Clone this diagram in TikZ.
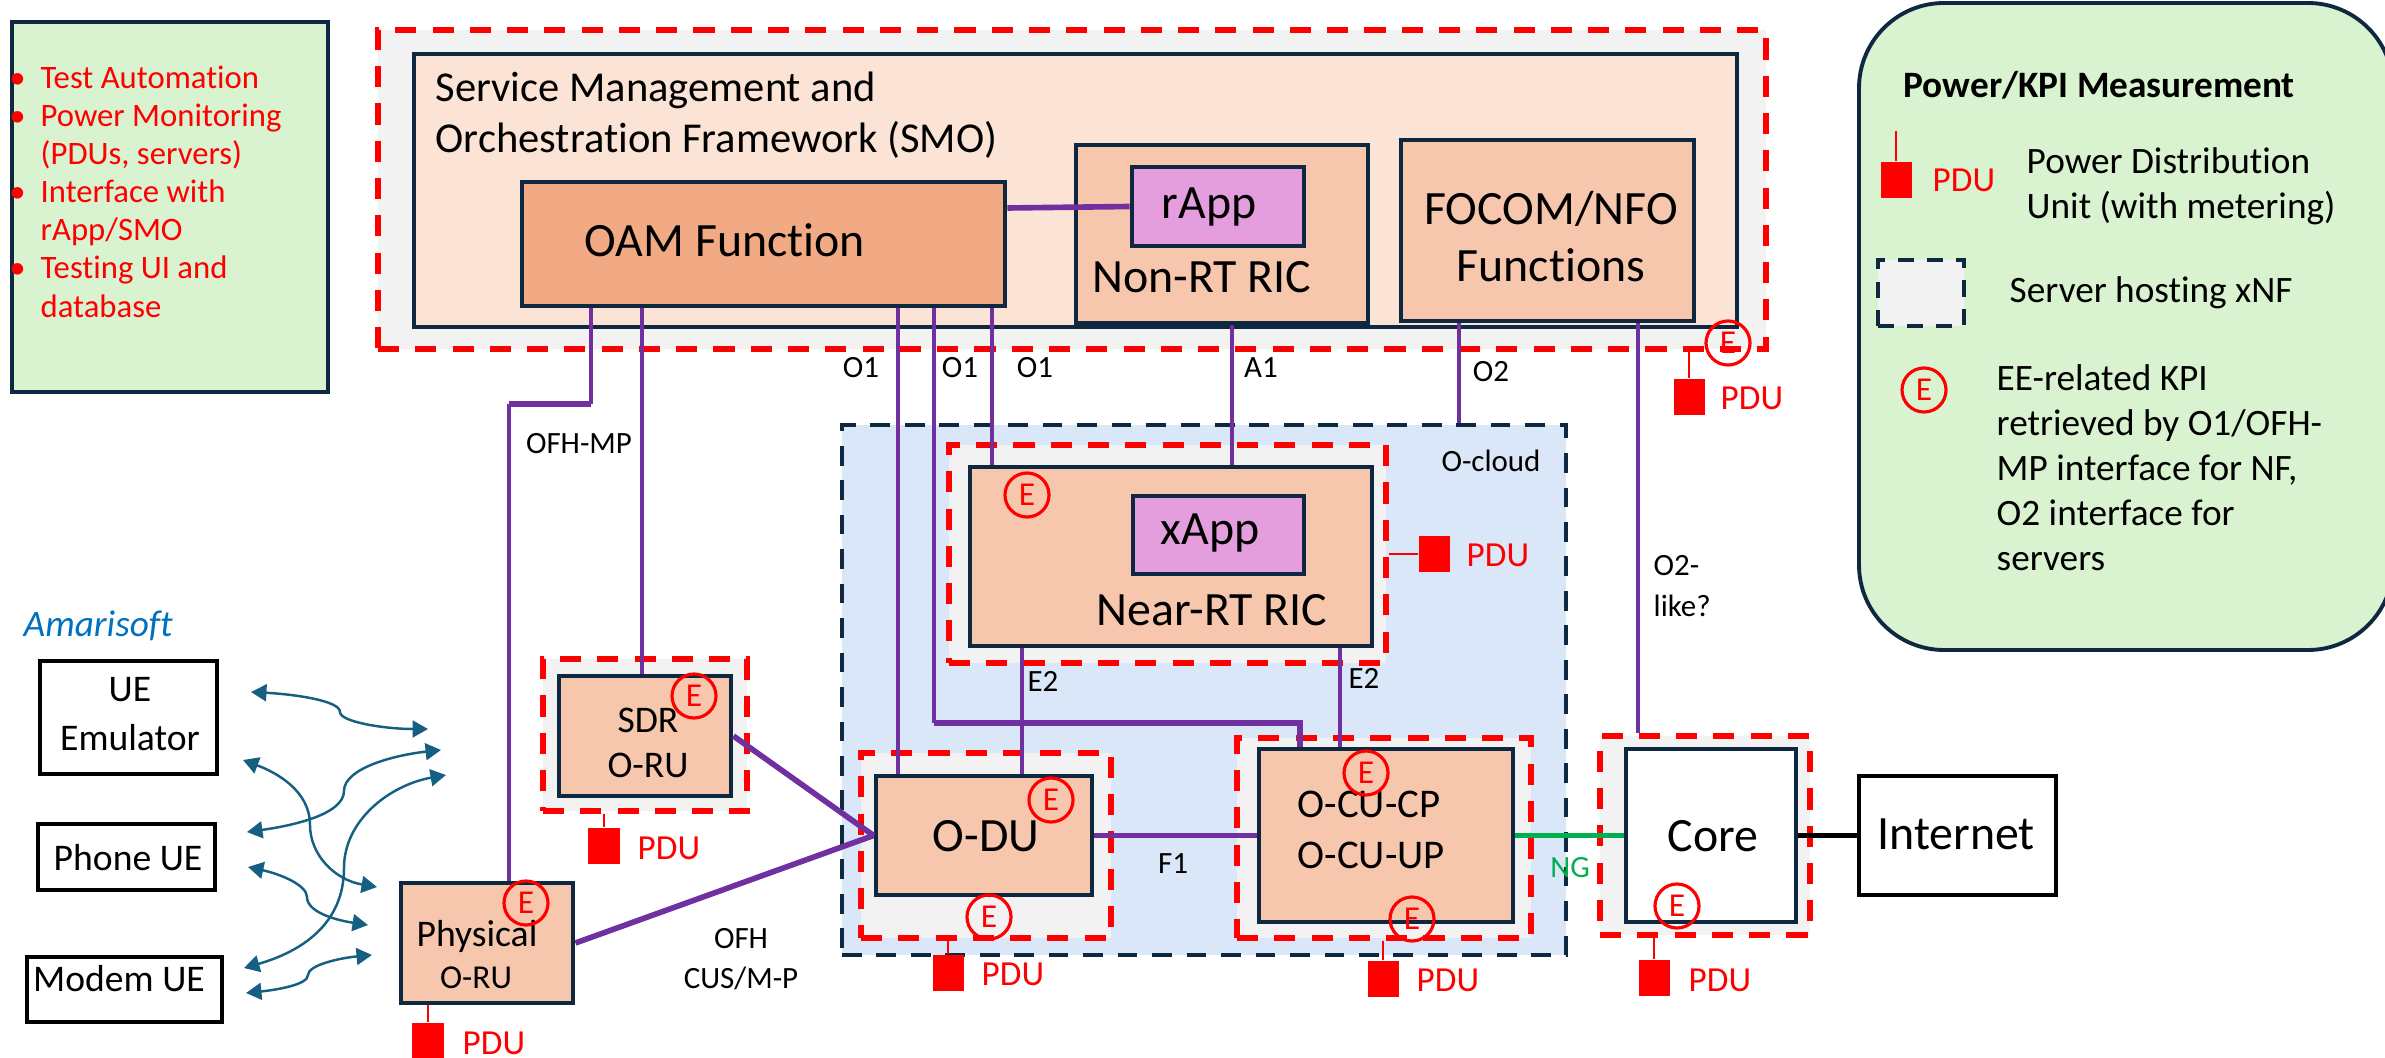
\documentclass[tikz,border=0pt]{standalone}
\usepackage{fontspec}
\setmainfont{Carlito}[Ligatures=CommonOff]
\usetikzlibrary{fit}
\usetikzlibrary{arrows.meta}

\definecolor{navy}{HTML}{0E2841}
\definecolor{oran}{HTML}{7030A0}
\definecolor{teal}{HTML}{156082}
\definecolor{peach}{HTML}{F6C6AD}
\definecolor{oamfill}{HTML}{F2AA84}
\definecolor{appfill}{HTML}{E59EDD}
\definecolor{smofill}{HTML}{FBE3D6}
\definecolor{notefill}{HTML}{D9F2D0}
\definecolor{cloudfill}{HTML}{DAE7F8}
\definecolor{srvfill}{HTML}{F2F2F2}
\definecolor{nggreen}{HTML}{00B050}
\definecolor{amari}{HTML}{0070C0}

\tikzset{
  boxbase/.style={inner sep=0pt,line width=1.4pt},
  ranbox/.style={boxbase,draw=navy,fill=peach},
  oambox/.style={boxbase,draw=navy,fill=oamfill},
  appbox/.style={boxbase,draw=navy,fill=appfill},
  smobox/.style={boxbase,draw=navy,fill=smofill},
  plainbox/.style={boxbase,draw=navy,fill=white},
  uebox/.style={boxbase,draw=black,fill=white},
  srvbox/.style={inner sep=0pt,draw=red,fill=srvfill,line width=1.5pt,dash pattern=on 6pt off 4.6pt},
  cloudbox/.style={inner sep=0pt,draw=navy,fill=cloudfill,line width=1pt,dash pattern=on 5.6pt off 4.2pt},
  notebox/.style={inner sep=0pt,draw=navy,fill=notefill,line width=1.1pt},
  swatch/.style={inner sep=0pt,draw=navy,fill=srvfill,line width=1pt,dash pattern=on 4.6pt off 3.6pt},
  ekpi/.style={circle,draw=red,line width=.9pt,inner sep=0pt,minimum size=.44cm,text=red,font=\fontsize{9.5}{10}\selectfont},
  pdusq/.style={fill=red,inner sep=0pt,minimum width=.31cm,minimum height=.36cm},
  pdutxt/.style={text=red,anchor=west,inner sep=0pt,font=\fontsize{10}{12}\selectfont},
  pduwire/.style={draw=red,line width=.7pt},
  oline/.style={draw=oran,line width=1.1pt},
  othick/.style={draw=oran,line width=1.6pt},
  ueflow/.style={draw=teal,line width=.7pt,{Triangle[length=4.4pt,width=4.8pt]}-{Triangle[length=4.4pt,width=4.8pt]}},
  iflabel/.style={inner sep=0pt,font=\fontsize{8.8}{10}\selectfont},
  bigtxt/.style={inner sep=0pt,font=\fontsize{13.6}{15}\selectfont},
  midtxt/.style={inner sep=0pt,font=\fontsize{11.6}{13}\selectfont},
  uetxt/.style={inner sep=0pt,font=\fontsize{10.7}{13}\selectfont},
  legtxt/.style={inner sep=0pt,anchor=west,font=\fontsize{10.6}{12.8}\selectfont},
}

\begin{document}
\begin{tikzpicture}[x=.01cm,y=-.01cm]
\useasboundingbox (0,0) rectangle (2385,1058);

% test automation note
\node[notebox,fit={(12,22)(328,392)}] (autonote) {};
\node[inner sep=0pt,anchor=north west,align=left,text=red,font=\fontsize{9.3}{10.85}\selectfont] (autotxt) at (40,65)
  {\leavevmode\llap{\textbullet\hspace{4.3pt}}Test Automation\\
   \leavevmode\llap{\textbullet\hspace{4.3pt}}Power Monitoring\\
   (PDUs, servers)\\
   \leavevmode\llap{\textbullet\hspace{4.3pt}}Interface with\\
   rApp/SMO\\
   \leavevmode\llap{\textbullet\hspace{4.3pt}}Testing UI and\\
   database};

% legend
\node[notebox,rounded corners=.85cm,fit={(1859,3)(2393,650)}] (legend) {};
\node[inner sep=0pt,anchor=west,font=\bfseries\fontsize{10.6}{13}\selectfont] (legtitle) at (1903,85) {Power/KPI Measurement};
\node[pdusq] (pduleg) at (1896,180) {};
\coordinate (legwire) at (1896,131);
\draw[pduwire] (legwire) -- (pduleg.north);
\node[pdutxt] (pdulegtxt) at (1932,180) {PDU};
\node[legtxt,align=left] (legpdu) at (2026,186) {Power Distribution\\Unit (with metering)};
\node[swatch,fit={(1878,260)(1964,326)}] (legsrv) {};
\node[legtxt] (legsrvtxt) at (2009,293) {Server hosting xNF};
\node[ekpi] (eleg) at (1924,390) {E};
\node[legtxt,align=left] (legkpi) at (1996,468) {EE-related KPI\\retrieved by O1/OFH-\\MP interface for NF,\\O2 interface for\\servers};

% SMO
\node[srvbox,fit={(378,30)(1766,349)}] (srvsmo) {};
\node[smobox,fit={(414,54)(1737,327)}] (smo) {};
\node[inner sep=0pt,anchor=west,align=left,font=\fontsize{12.1}{14.5}\selectfont] (smotxt) at (435,115) {Service Management and\\Orchestration Framework (SMO)};
\node[oambox,fit={(522,182)(1005,306)}] (oam) {};
\node[bigtxt] (oamtxt) at (725,240) {OAM Function};
\node[ranbox,fit={(1076,145)(1368,323)}] (nonrt) {};
\node[appbox,fit={(1132,167)(1304,246)}] (rapp) {};
\node[bigtxt] (rapptxt) at (1209,207) {rApp};
\node[bigtxt] (nonrttxt) at (1202,277) {Non-RT RIC};
\node[ranbox,fit={(1401,140)(1694,321)}] (focom) {};
\node[bigtxt,align=center] (focomtxt) at (1551,237) {FOCOM/NFO\\[1.2pt]Functions};

% O-cloud
\node[cloudbox,fit={(842,425)(1566,955)}] (ocloud) {};
\node[iflabel] (ocloudtxt) at (1491,461) {O-cloud};

% near-RT RIC
\node[srvbox,fit={(949,445)(1386,663)}] (srvric) {};
\node[ranbox,fit={(970,467)(1372,646)}] (nearrt) {};
\node[appbox,fit={(1133,496)(1304,574)}] (xapp) {};
\node[bigtxt] (xapptxt) at (1210,533) {xApp};
\node[bigtxt] (nearrttxt) at (1212,610) {Near-RT RIC};

% O-DU and O-CU
\node[srvbox,fit={(861,753)(1111,938)}] (srvdu) {};
\node[ranbox,fit={(876,776)(1092,895)}] (odu) {};
\node[bigtxt] (odutxt) at (986,836) {O-DU};
\node[srvbox,fit={(1237,738)(1531,938)}] (srvcu) {};
\node[ranbox,fit={(1259,749)(1513,922)}] (ocu) {};
\node[midtxt,anchor=west] (cptxt) at (1297,804) {O-CU-CP};
\node[midtxt,anchor=west] (uptxt) at (1297,855) {O-CU-UP};

% core and internet
\node[srvbox,fit={(1600,736)(1810,935)}] (srvcore) {};
\node[plainbox,fit={(1626,749)(1796,922)}] (core) {};
\node[bigtxt] (coretxt) at (1713,836) {Core};
\node[uebox,fit={(1859,776)(2056,895)}] (inet) {};
\node[bigtxt] (inettxt) at (1956,834) {Internet};

% radio units
\node[srvbox,fit={(543,659)(747,811)}] (srvsdr) {};
\node[ranbox,fit={(559,676)(731,796)}] (sdr) {};
\node[uetxt] (sdrtxt) at (648,720) {SDR};
\node[uetxt] (sdrru) at (648,765) {O-RU};
\node[ranbox,fit={(401,883)(573,1003)}] (phys) {};
\node[uetxt] (phystxt) at (477,936) {Physical};
\node[iflabel,font=\fontsize{9.5}{11}\selectfont] (physru) at (476,978) {O-RU};

% UE side
\node[text=amari,inner sep=0pt,anchor=west,font=\itshape\fontsize{10.6}{12}\selectfont] (amarisoft) at (23,626) {Amarisoft};
\node[uebox,fit={(40,661)(217,774)}] (ueemu) {};
\node[uetxt,align=center] (ueemutxt) at (130,714) {UE\\[1pt]Emulator};
\node[uebox,fit={(38,824)(215,890)}] (uephone) {};
\node[uetxt] (uephonetxt) at (128,858) {Phone UE};
\node[uebox,fit={(27,957)(222,1022)}] (uemodem) {};
\node[uetxt] (uemodemtxt) at (119,979) {Modem UE};

% x positions of the vertical interfaces
\coordinate (xmpa) at (591,0);
\coordinate (xmpb) at (642,0);
\coordinate (xoa) at (898,0);
\coordinate (xob) at (934,0);
\coordinate (xoc) at (992,0);
\coordinate (xaone) at (1232,0);
\coordinate (xotwo) at (1459,0);
\coordinate (xlike) at (1638,0);
\coordinate (xea) at (1022,0);
\coordinate (xeb) at (1340,0);
\coordinate (jmp) at (509,404);
\coordinate (jo) at (934,723);
\coordinate (jocu) at (1300,723);

% interfaces
\draw[oline] (oam.south -| xmpa) -- (xmpa |- jmp);
\draw[othick] (jmp) -- (xmpa |- jmp);
\draw[oline] (jmp) -- (jmp |- phys.north);
\draw[oline] (oam.south -| xmpb) -- (sdr.north -| xmpb);
\draw[oline] (oam.south -| xoa) -- (odu.north -| xoa);
\draw[oline] (oam.south -| xob) -- (jo);
\draw[othick] (jo) -- (jocu) -- (ocu.north -| jocu);
\draw[oline] (oam.south -| xoc) -- (nearrt.north -| xoc);
\draw[oline] (nonrt.south -| xaone) -- (nearrt.north -| xaone);
\draw[oline] (focom.south -| xotwo) -- (ocloud.north -| xotwo);
\draw[oline] (focom.south -| xlike) -- (srvcore.north -| xlike);
\draw[oline] (nearrt.south -| xea) -- (odu.north -| xea);
\draw[oline] (nearrt.south -| xeb) -- (ocu.north -| xeb);
\draw[othick] (oam.east) ++(0,-36) -- (rapp.west);
\draw[othick] (odu.east) -- (ocu.west);
\draw[othick] (sdr.east) -- (odu.west);
\draw[othick] (phys.east) -- (odu.west);
\draw[draw=nggreen,line width=1.6pt] (ocu.east) -- (core.west);
\draw[draw=black,line width=1.6pt] (core.east) -- (inet.west);

% interface labels
\node[iflabel] (lofh) at (579,444) {OFH-MP};
\node[iflabel] (loa) at (861,368) {O1};
\node[iflabel] (lob) at (960,368) {O1};
\node[iflabel] (loc) at (1035,368) {O1};
\node[iflabel] (laone) at (1261,368) {A1};
\node[iflabel] (lotwo) at (1491,372) {O2};
\node[iflabel,anchor=west,align=left] (llike) at (1653,586) {O2-\\[1.5pt]like?};
\node[iflabel] (lea) at (1043,681) {E2};
\node[iflabel] (leb) at (1364,678) {E2};
\node[iflabel] (lfone) at (1173,864) {F1};
\node[iflabel,text=nggreen] (lng) at (1570,868) {NG};
\node[iflabel,align=center] (lcus) at (741,959) {OFH\\[1.5pt]CUS/M-P};

% PDUs
\node[pdusq] (pdusmo) at (1689,397) {};
\draw[pduwire] (srvsmo.south -| pdusmo) -- (pdusmo.north);
\node[pdutxt] at (1720,398) {PDU};
\node[pdusq] (pduric) at (1434,554) {};
\draw[pduwire] (srvric.east |- pduric) -- (pduric.west);
\node[pdutxt] at (1466,555) {PDU};
\node[pdusq] (pdusdr) at (604,846) {};
\draw[pduwire] (srvsdr.south -| pdusdr) -- (pdusdr.north);
\node[pdutxt] at (637,848) {PDU};
\node[pdusq] (pdudu) at (948,973) {};
\draw[pduwire] (srvdu.south -| pdudu) -- (pdudu.north);
\node[pdutxt] at (981,974) {PDU};
\node[pdusq] (pducu) at (1383,979) {};
\draw[pduwire] (srvcu.south -| pducu) -- (pducu.north);
\node[pdutxt] at (1416,980) {PDU};
\node[pdusq] (pducore) at (1654,978) {};
\draw[pduwire] (srvcore.south -| pducore) -- (pducore.north);
\node[pdutxt] at (1688,980) {PDU};
\node[pdusq] (pduphys) at (428,1041) {};
\draw[pduwire] (phys.south -| pduphys) -- (pduphys.north);
\node[pdutxt] at (462,1043) {PDU};

% KPI marks
\node[ekpi] (esmo) at (1728,343) {E};
\node[ekpi] (eric) at (1027,495) {E};
\node[ekpi] (esdr) at (694,696) {E};
\node[ekpi] (edua) at (1051,800) {E};
\node[ekpi] (edub) at (989,917) {E};
\node[ekpi] (ecua) at (1366,773) {E};
\node[ekpi] (ecub) at (1412,919) {E};
\node[ekpi] (ecore) at (1677,906) {E};
\node[ekpi] (ephys) at (526,903) {E};

% UE arrows
\coordinate (uaa) at (251,692);
\coordinate (uab) at (428,729);
\coordinate (uba) at (243,760);
\coordinate (ubb) at (377,887);
\coordinate (uca) at (247,832);
\coordinate (ucb) at (441,750);
\coordinate (uda) at (248,867);
\coordinate (udb) at (368,925);
\coordinate (uea) at (244,968);
\coordinate (ueb) at (446,775);
\coordinate (ufa) at (246,993);
\coordinate (ufb) at (372,955);
\draw[ueflow] (uaa) .. controls (290,694) and (340,700) .. (340,712) .. controls (340,722) and (385,729) .. (uab);
\draw[ueflow] (uba) .. controls (275,772) and (310,790) .. (310,825) .. controls (310,855) and (335,880) .. (ubb);
\draw[ueflow] (uca) .. controls (290,826) and (344,815) .. (344,791) .. controls (344,768) and (395,755) .. (ucb);
\draw[ueflow] (uda) .. controls (280,874) and (307,885) .. (307,897) .. controls (307,912) and (335,920) .. (udb);
\draw[ueflow] (uea) .. controls (300,952) and (344,925) .. (344,868) .. controls (344,820) and (390,785) .. (ueb);
\draw[ueflow] (ufa) .. controls (275,990) and (308,985) .. (308,975) .. controls (308,965) and (340,958) .. (ufb);

\end{tikzpicture}
\end{document}
